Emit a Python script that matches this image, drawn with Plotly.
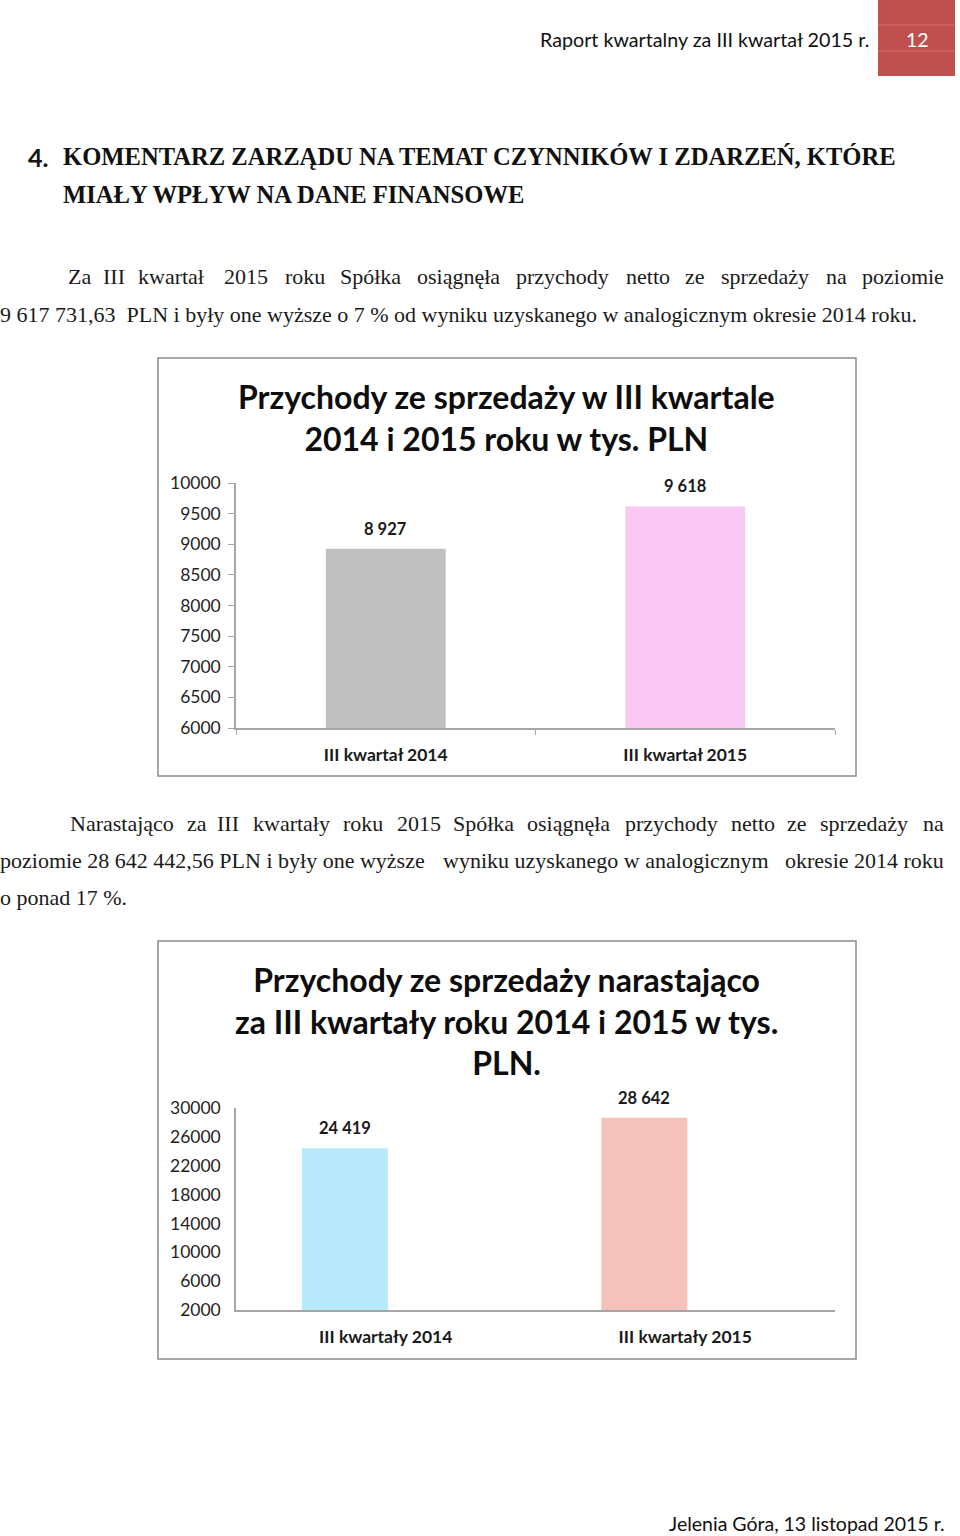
import plotly.graph_objects as go

W, H = 960, 1536

# ---------------- data ----------------
q_categories = ["III kwartał 2014", "III kwartał 2015"]
q_values = [8927, 9618]
q_colors = ["#BFBFBF", "#FAC8F5"]
q_ticks = [6000, 6500, 7000, 7500, 8000, 8500, 9000, 9500, 10000]

c_categories = ["III kwartały 2014", "III kwartały 2015"]
c_values = [24419, 28642]
c_colors = ["#B8E9FB", "#F4C1BB"]
c_ticks = [2000, 6000, 10000, 14000, 18000, 22000, 26000, 30000]

q_title = "Przychody ze sprzedaży w III kwartale<br>2014 i 2015 roku w tys. PLN"
c_title = "Przychody ze sprzedaży narastająco<br>za III kwartały roku 2014 i 2015 w tys.<br>PLN."


def px(x):
    return x / W


def py(y):
    return 1 - y / H


SANS = "Lato"
SERIF = "Liberation Serif"

fig = go.Figure()

# chart 1 bars
fig.add_trace(go.Bar(
    x=q_categories, y=q_values, marker=dict(color=q_colors, line=dict(width=0)),
    width=0.4, xaxis="x", yaxis="y", cliponaxis=False, hoverinfo="skip",
))
# chart 2 bars (offset to the left as in the original clustered layout)
C_WIDTH = 0.287
C_OFFSET = -0.28
fig.add_trace(go.Bar(
    x=c_categories, y=c_values, marker=dict(color=c_colors, line=dict(width=0)),
    width=C_WIDTH, offset=C_OFFSET, base=0, xaxis="x2", yaxis="y2", cliponaxis=True,
    hoverinfo="skip",
))

axis_color = "#A6A6A6"
tick_font = dict(family=SANS, size=17.5, color="#1f1f1f")
xlab_font = dict(family=SANS, size=17.5, color="#1a1a1a", weight="bold")

fig.update_layout(
    width=W, height=H, margin=dict(l=0, r=0, t=0, b=0, pad=0, autoexpand=False),
    paper_bgcolor="white", plot_bgcolor="white", showlegend=False,
    xaxis=dict(domain=[px(236), px(835)], anchor="y", type="category",
               showline=True, linecolor=axis_color, linewidth=1.5,
               ticks="outside", tickson="boundaries", ticklen=5, tickcolor=axis_color,
               tickfont=xlab_font, ticklabelstandoff=10, showgrid=False, zeroline=False,
               automargin=False),
    yaxis=dict(domain=[py(728), py(483)], anchor="x", range=[6000, 10000],
               tickvals=q_ticks, tickformat="d",
               showline=True, linecolor=axis_color, linewidth=1.5,
               ticks="outside", ticklen=6, tickcolor=axis_color,
               tickfont=tick_font, ticklabelstandoff=4, showgrid=False, zeroline=False,
               automargin=False),
    xaxis2=dict(domain=[px(236), px(835)], anchor="y2", type="category",
                showline=True, linecolor=axis_color, linewidth=1.5,
                ticks="", tickfont=xlab_font, ticklabelstandoff=10,
                showgrid=False, zeroline=False, automargin=False),
    yaxis2=dict(domain=[py(1310), py(1108)], anchor="x2", range=[2000, 30000],
                tickvals=c_ticks, tickformat="d",
                showline=True, linecolor=axis_color, linewidth=1.5,
                ticks="", tickfont=tick_font, ticklabelstandoff=10,
                showgrid=False, zeroline=False, automargin=False),
)

annotations = []
shapes = []

# data labels
lab_font = dict(family=SANS, size=16.5, color="#1a1a1a", weight="bold")
for cat, v in zip(q_categories, q_values):
    annotations.append(dict(x=cat, y=v, xref="x", yref="y", text=f"{v:,}".replace(",", " "),
                            showarrow=False, yanchor="bottom", yshift=8, font=lab_font))
cat_px = (835 - 236) / 2
for cat, v in zip(c_categories, c_values):
    annotations.append(dict(x=cat, y=v, xref="x2", yref="y2", text=f"{v:,}".replace(",", " "),
                            showarrow=False, yanchor="bottom", yshift=8,
                            xshift=(C_OFFSET + C_WIDTH / 2) * cat_px, font=lab_font))

# chart titles
title_font = dict(family=SANS, size=32, color="#0d0d0d", weight="bold")
annotations.append(dict(x=px(506), y=py(417), xref="paper", yref="paper", text=q_title,
                        showarrow=False, xanchor="center", yanchor="middle", font=title_font,
                        align="center"))
annotations.append(dict(x=px(506), y=py(1021), xref="paper", yref="paper", text=c_title,
                        showarrow=False, xanchor="center", yanchor="middle", font=title_font,
                        align="center"))

# chart frames
for y0, y1 in [(358, 776), (941, 1359)]:
    shapes.append(dict(type="rect", xref="paper", yref="paper", x0=px(158), x1=px(856),
                       y0=py(y1), y1=py(y0), line=dict(color="#8C8C8C", width=1.5),
                       fillcolor="rgba(0,0,0,0)", layer="below"))

# page header
shapes.append(dict(type="rect", xref="paper", yref="paper", x0=px(878), x1=px(955),
                   y0=py(76), y1=py(0), line=dict(width=0), fillcolor="#C0504D", layer="below"))
for yy in [25, 51]:
    shapes.append(dict(type="line", xref="paper", yref="paper", x0=px(878), x1=px(955),
                       y0=py(yy), y1=py(yy), line=dict(color="#D2716E", width=1)))
annotations.append(dict(x=px(917), y=py(39), xref="paper", yref="paper", text="12",
                        showarrow=False, xanchor="center", yanchor="middle",
                        font=dict(family=SANS, size=19.5, color="white")))
annotations.append(dict(x=px(871), y=py(39), xref="paper", yref="paper",
                        text="Raport kwartalny za III kwartał 2015 r.",
                        showarrow=False, xanchor="right", yanchor="middle",
                        font=dict(family=SANS, size=19.7, color="#111111")))

# section heading
annotations.append(dict(x=px(26), y=py(157), xref="paper", yref="paper", text="4.",
                        showarrow=False, xanchor="left", yanchor="middle",
                        font=dict(family=SANS, size=25, color="#111111", weight="bold")))
head_font = dict(family=SERIF, size=24.6, color="#111111", weight="bold")
annotations.append(dict(x=px(61), y=py(157), xref="paper", yref="paper",
                        text="KOMENTARZ ZARZĄDU NA TEMAT CZYNNIKÓW I ZDARZEŃ, KTÓRE",
                        showarrow=False, xanchor="left", yanchor="middle", font=head_font))
annotations.append(dict(x=px(61), y=py(194), xref="paper", yref="paper",
                        text="MIAŁY WPŁYW NA DANE FINANSOWE",
                        showarrow=False, xanchor="left", yanchor="middle", font=head_font))

body_font = dict(family=SERIF, size=22, color="#1a1a1a")


def justified(words, centers, y, left, right):
    n = len(words)
    for i, (w, c) in enumerate(zip(words, centers)):
        if i == 0:
            xa, xx = "left", left - 2
        elif i == n - 1:
            xa, xx = "right", right + 2
        else:
            xa, xx = "center", c
        annotations.append(dict(x=px(xx), y=py(y), xref="paper", yref="paper", text=w,
                                showarrow=False, xanchor=xa, yanchor="middle", font=body_font))


def plain(text, x, y):
    annotations.append(dict(x=px(x - 2), y=py(y), xref="paper", yref="paper", text=text,
                            showarrow=False, xanchor="left", yanchor="middle", font=body_font))


justified(["Za", "III", "kwartał", "2015", "roku", "Spółka", "osiągnęła", "przychody",
           "netto", "ze", "sprzedaży", "na", "poziomie"],
          [80, 114, 171, 246, 305, 370, 458, 562, 648, 695, 765, 836, 902], 277, 68, 944)
plain("9 617 731,63  PLN i były one wyższe o 7 % od wyniku uzyskanego w analogicznym okresie 2014 roku.",
      0, 314)

justified(["Narastająco", "za", "III", "kwartały", "roku", "2015", "Spółka", "osiągnęła",
           "przychody", "netto", "ze", "sprzedaży", "na"],
          [123, 197, 228, 291, 363, 419, 483, 568, 671, 753, 797, 864, 933], 823, 70, 944)
justified(["poziomie 28 642 442,56 PLN i były one wyższe",
           "wyniku uzyskanego w analogicznym",
           "okresie 2014 roku"],
          [0, 606, 944], 860, 0, 944)
plain("o ponad 17 %.", 0, 897)

# footer
annotations.append(dict(x=px(947), y=py(1523), xref="paper", yref="paper",
                        text="Jelenia Góra, 13 listopad 2015 r.",
                        showarrow=False, xanchor="right", yanchor="middle",
                        font=dict(family=SANS, size=19.5, color="#111111")))

fig.update_layout(annotations=annotations, shapes=shapes)
fig.write_html("out.html")
